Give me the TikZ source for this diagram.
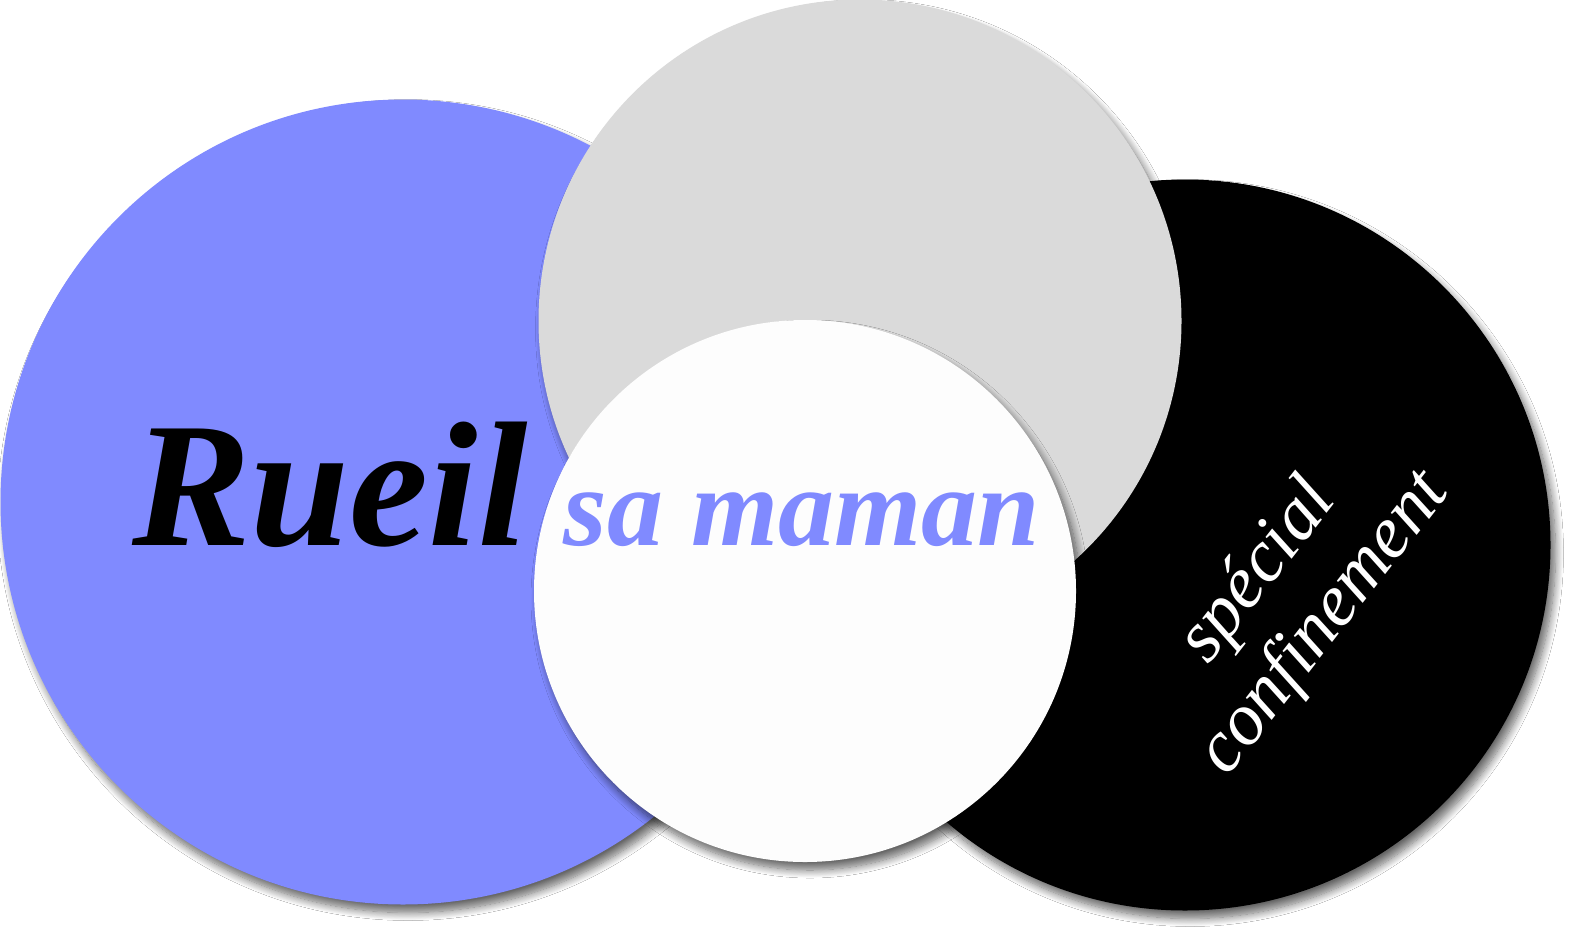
\documentclass[tikz,border=0pt]{standalone}
\usepackage{fontspec}
\setmainfont{Liberation Serif}
\usetikzlibrary{shadows.blur}
\definecolor{bluec}{RGB}{128,138,255}
\definecolor{grayc}{RGB}{218,218,218}
\definecolor{whitec}{RGB}{253,253,253}
\tikzset{
  disc/.style={circle, inner sep=0pt, draw=none,
    blur shadow={shadow xshift=5pt, shadow yshift=-8pt, shadow blur radius=8pt, shadow blur steps=12, shadow opacity=60}},
  word/.style={inner sep=0pt, anchor=base}
}
\begin{document}
\begin{tikzpicture}[x=1pt,y=-1pt]
\useasboundingbox[fill=white] (0,0) rectangle (1570,929);
\node[disc, fill=bluec, minimum size=805pt] (blue) at (403,502) {};
\node[disc, fill=black, minimum size=731pt] (black) at (1185,545) {};
\node[disc, fill=grayc, minimum size=643pt] (gray) at (860,321) {};
\node[disc, fill=whitec, minimum size=542pt] (white) at (805,591) {};
\node[word, font=\bfseries\itshape\fontsize{178}{178}\selectfont] (rueil) at (330,545) {Rueil};
\node[word, text=bluec, font=\bfseries\itshape\fontsize{112}{112}\selectfont] (maman) at (802,545) {sa maman};
\node[inner sep=0pt, text=white, rotate=52, align=center, font=\itshape\fontsize{74}{84}\selectfont] (spec) at (1292,598) {spécial\\confinement};
\end{tikzpicture}
\end{document}
